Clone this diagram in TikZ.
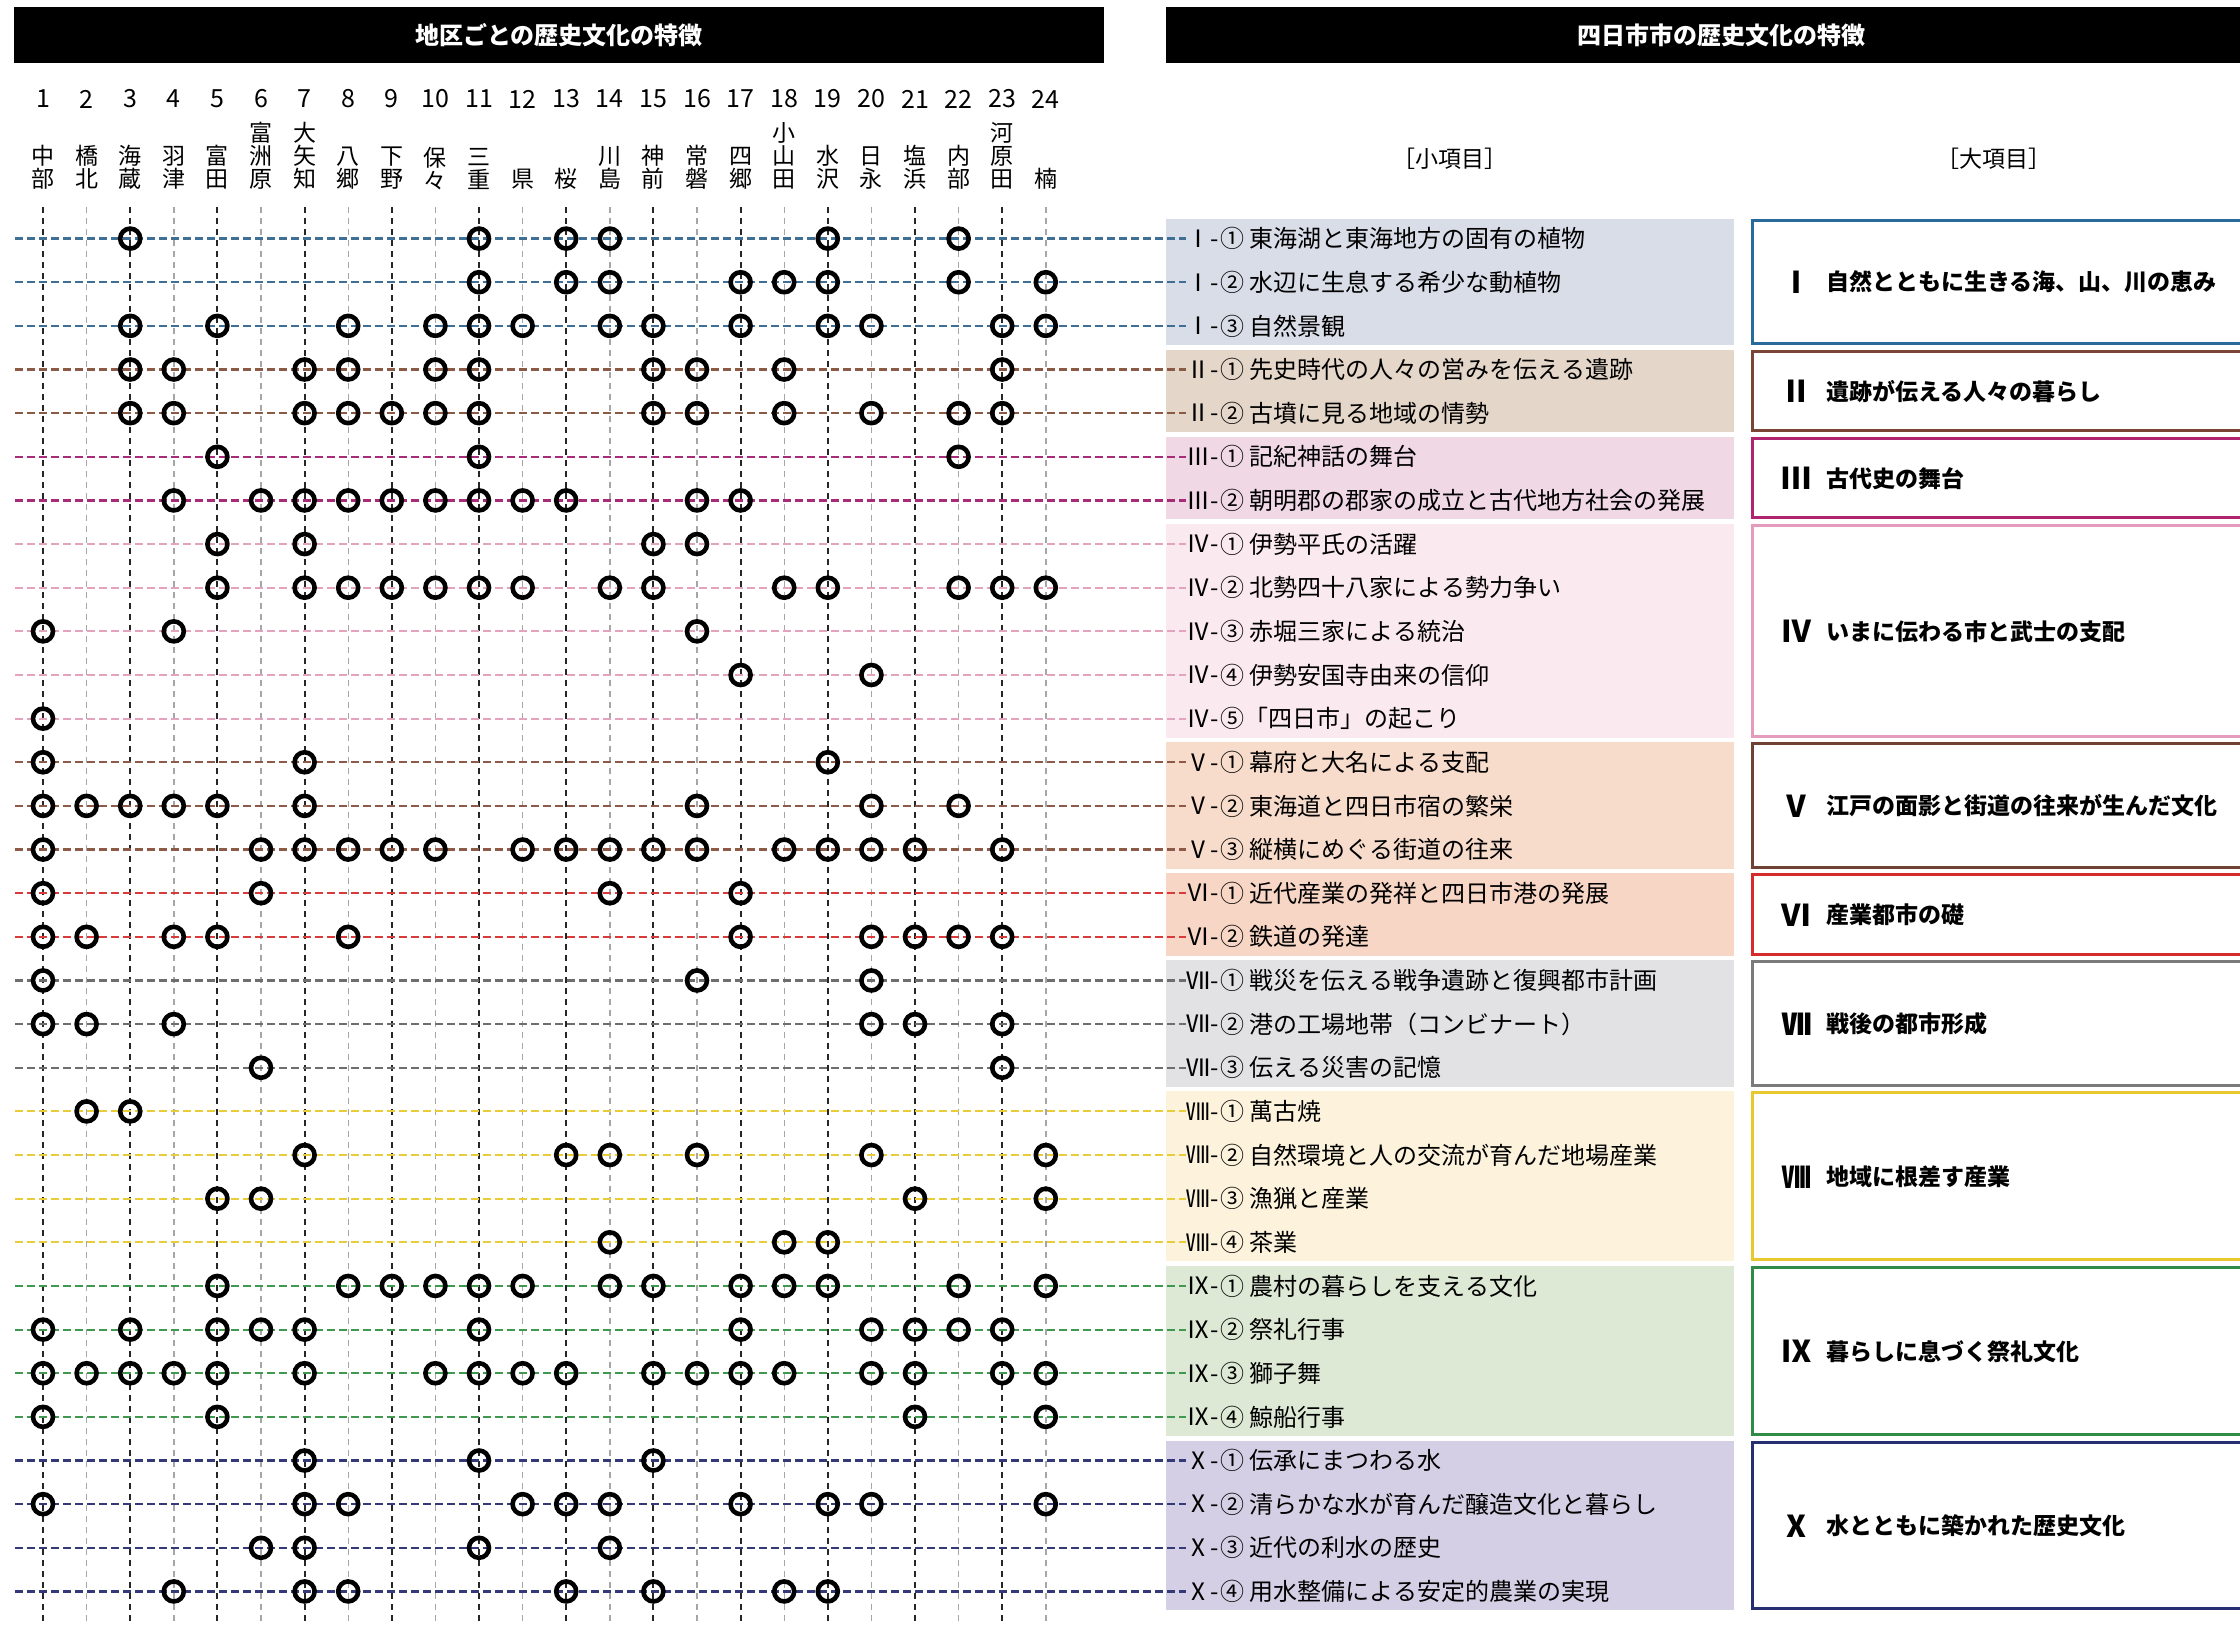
\documentclass[tikz,border=0pt]{standalone}
\usepackage{fontspec}
\setmainfont{Noto Sans CJK JP}
\usetikzlibrary{positioning}
\definecolor{line1}{HTML}{3F6F95}
\definecolor{line2}{HTML}{8A5A45}
\definecolor{line3}{HTML}{A62C78}
\definecolor{line4}{HTML}{E3A3BD}
\definecolor{line5}{HTML}{8C5A46}
\definecolor{line6}{HTML}{D93A3A}
\definecolor{line7}{HTML}{6E6E6E}
\definecolor{line8}{HTML}{E8CC3A}
\definecolor{line9}{HTML}{3F9A50}
\definecolor{line10}{HTML}{343A78}
\definecolor{fill1}{HTML}{D9DDE8}
\definecolor{fill2}{HTML}{E4D6C8}
\definecolor{fill3}{HTML}{F0D8E5}
\definecolor{fill4}{HTML}{FBE9F0}
\definecolor{fill5}{HTML}{F8DCCB}
\definecolor{fill6}{HTML}{F7D6C5}
\definecolor{fill7}{HTML}{E2E2E4}
\definecolor{fill8}{HTML}{FDF3DC}
\definecolor{fill9}{HTML}{DDE8D5}
\definecolor{fill10}{HTML}{D4CFE4}
\definecolor{box1}{HTML}{2A6A9A}
\definecolor{box2}{HTML}{7A4535}
\definecolor{box3}{HTML}{B0246F}
\definecolor{box4}{HTML}{E59BBB}
\definecolor{box5}{HTML}{6F4234}
\definecolor{box6}{HTML}{D62B2B}
\definecolor{box7}{HTML}{7B7B7B}
\definecolor{box8}{HTML}{E9C72E}
\definecolor{box9}{HTML}{2F8C48}
\definecolor{box10}{HTML}{263070}
\tikzset {
  ring/.style = {draw, circle, line width=2.3pt, minimum size=10pt, inner sep=0},
  vodd/.style = {dash pattern=on 3.2pt off 2.3pt, line width=1pt, color=black!85},
  veven/.style = {dash pattern=on 3.2pt off 2.3pt, line width=0.7pt, color=black!35},
  hline/.style = {dash pattern=on 4pt off 2pt, line width=1.1pt},
  titlebar/.style = {fill=black, text=white, font=\bfseries\fontsize{12}{14}\selectfont, inner sep=0},
  headtext/.style = {font=\fontsize{11.5}{11.5}\selectfont, inner sep=0},
  colnum/.style = {font=\fontsize{12.5}{12.5}\selectfont, inner sep=0},
  colname/.style = {font=\fontsize{11.5}{11.5}\selectfont, align=center, anchor=south, inner sep=0},
  numpre/.style = {anchor=east, inner sep=0, font=\fontsize{12}{12}\selectfont},
  itemtext/.style = {anchor=west, inner sep=0, font=\fontsize{12}{12}\selectfont},
  bignum/.style = {font=\bfseries\fontsize{15}{15}\selectfont, inner sep=0},
  bigtitle/.style = {anchor=west, font=\bfseries\fontsize{11.5}{12}\selectfont, inner sep=0}
}

\begin{document}
\begin{tikzpicture}[x=0.5pt, y=-0.5pt]
  \useasboundingbox (0,0) rectangle (2240,1625);

  % title bars
  \node[titlebar, minimum width=545pt, minimum height=28pt] (hleft) at (559,35) {地区ごとの歴史文化の特徴};
  \node[titlebar, minimum width=555pt, minimum height=28pt] (hright) at (1721,35) {四日市市の歴史文化の特徴};
  \node[headtext] (small) at (1450,159) {［小項目］};
  \node[headtext] (large) at (1994,159) {［大項目］};

  % groups: background of the items and frame of the main theme
  \foreach \g/\num/\a/\b/\ttl in {
      1/Ⅰ/1/3/{自然とともに生きる海、山、川の恵み},
      2/Ⅱ/4/5/{遺跡が伝える人々の暮らし},
      3/Ⅲ/6/7/{古代史の舞台},
      4/Ⅳ/8/12/{いまに伝わる市と武士の支配},
      5/Ⅴ/13/15/{江戸の面影と街道の往来が生んだ文化},
      6/Ⅵ/16/17/{産業都市の礎},
      7/Ⅶ/18/20/{戦後の都市形成},
      8/Ⅷ/21/24/{地域に根差す産業},
      9/Ⅸ/25/28/{暮らしに息づく祭礼文化},
      10/Ⅹ/29/32/{水とともに築かれた歴史文化}} {
    \fill[fill\g] (1166,{238.6+(\a-1)*43.64-20}) rectangle (1734,{238.6+(\b-1)*43.64+19});
    \draw[box\g, line width=1.5pt] (1752,{238.6+(\a-1)*43.64-18.5}) rectangle (2280,{238.6+(\b-1)*43.64+17.5});
    \node[bignum] (num\g) at (1796,{238.6+((\a+\b)/2-1)*43.64}) {\num};
    \node[bigtitle] (ttl\g) at (1826,{238.6+((\a+\b)/2-1)*43.64}) {\ttl};
  }

  % districts
  \foreach \c/\name in {1/{中\\部}, 2/{橋\\北}, 3/{海\\蔵}, 4/{羽\\津}, 5/{富\\田}, 6/{富\\洲\\原},
      7/{大\\矢\\知}, 8/{八\\郷}, 9/{下\\野}, 10/{保\\々}, 11/{三\\重}, 12/{県}, 13/{桜},
      14/{川\\島}, 15/{神\\前}, 16/{常\\磐}, 17/{四\\郷}, 18/{小\\山\\田}, 19/{水\\沢},
      20/{日\\永}, 21/{塩\\浜}, 22/{内\\部}, 23/{河\\原\\田}, 24/{楠}} {
    \node[colnum] (k\c) at ({43+(\c-1)*43.6},99) {\c};
    \node[colname] (m\c) at ({43+(\c-1)*43.6},190) {\name};
    \coordinate (top\c) at ({43+(\c-1)*43.6},207);
    \coordinate (bot\c) at ({43+(\c-1)*43.6},1625);
  }
  \foreach \c in {1,3,...,23}
    \draw[vodd] (top\c) -- (bot\c);
  \foreach \c in {2,4,...,24}
    \draw[veven] (top\c) -- (bot\c);

  % items
  \foreach \r/\g/\pre/\txt in {
      1/1/Ⅰ-/{① 東海湖と東海地方の固有の植物},
      2/1/Ⅰ-/{② 水辺に生息する希少な動植物},
      3/1/Ⅰ-/{③ 自然景観},
      4/2/Ⅱ-/{① 先史時代の人々の営みを伝える遺跡},
      5/2/Ⅱ-/{② 古墳に見る地域の情勢},
      6/3/Ⅲ-/{① 記紀神話の舞台},
      7/3/Ⅲ-/{② 朝明郡の郡家の成立と古代地方社会の発展},
      8/4/Ⅳ-/{① 伊勢平氏の活躍},
      9/4/Ⅳ-/{② 北勢四十八家による勢力争い},
      10/4/Ⅳ-/{③ 赤堀三家による統治},
      11/4/Ⅳ-/{④ 伊勢安国寺由来の信仰},
      12/4/Ⅳ-/{⑤「四日市」の起こり},
      13/5/Ⅴ-/{① 幕府と大名による支配},
      14/5/Ⅴ-/{② 東海道と四日市宿の繁栄},
      15/5/Ⅴ-/{③ 縦横にめぐる街道の往来},
      16/6/Ⅵ-/{① 近代産業の発祥と四日市港の発展},
      17/6/Ⅵ-/{② 鉄道の発達},
      18/7/Ⅶ-/{① 戦災を伝える戦争遺跡と復興都市計画},
      19/7/Ⅶ-/{② 港の工場地帯（コンビナート）},
      20/7/Ⅶ-/{③ 伝える災害の記憶},
      21/8/Ⅷ-/{① 萬古焼},
      22/8/Ⅷ-/{② 自然環境と人の交流が育んだ地場産業},
      23/8/Ⅷ-/{③ 漁猟と産業},
      24/8/Ⅷ-/{④ 茶業},
      25/9/Ⅸ-/{① 農村の暮らしを支える文化},
      26/9/Ⅸ-/{② 祭礼行事},
      27/9/Ⅸ-/{③ 獅子舞},
      28/9/Ⅸ-/{④ 鯨船行事},
      29/10/Ⅹ-/{① 伝承にまつわる水},
      30/10/Ⅹ-/{② 清らかな水が育んだ醸造文化と暮らし},
      31/10/Ⅹ-/{③ 近代の利水の歴史},
      32/10/Ⅹ-/{④ 用水整備による安定的農業の実現}} {
    \node[numpre] (p\r) at (1219,{238.6+(\r-1)*43.64}) {\pre};
    \node[itemtext] (s\r) at (1220,{238.6+(\r-1)*43.64}) {\txt};
    \coordinate (l\r) at (15,{238.6+(\r-1)*43.64});
    \draw[hline, line\g] (l\r) -- (p\r.west);
  }

  % marks
  \foreach \r/\cols in {
      1/{3,11,13,14,19,22},
      2/{11,13,14,17,18,19,22,24},
      3/{3,5,8,10,11,12,14,15,17,19,20,23,24},
      4/{3,4,7,8,10,11,15,16,18,23},
      5/{3,4,7,8,9,10,11,15,16,18,20,22,23},
      6/{5,11,22},
      7/{4,6,7,8,9,10,11,12,13,16,17},
      8/{5,7,15,16},
      9/{5,7,8,9,10,11,12,14,15,18,19,22,23,24},
      10/{1,4,16},
      11/{17,20},
      12/{1},
      13/{1,7,19},
      14/{1,2,3,4,5,7,16,20,22},
      15/{1,6,7,8,9,10,12,13,14,15,16,18,19,20,21,23},
      16/{1,6,14,17},
      17/{1,2,4,5,8,17,20,21,22,23},
      18/{1,16,20},
      19/{1,2,4,20,21,23},
      20/{6,23},
      21/{2,3},
      22/{7,13,14,16,20,24},
      23/{5,6,21,24},
      24/{14,18,19},
      25/{5,8,9,10,11,12,14,15,17,18,19,22,24},
      26/{1,3,5,6,7,11,17,20,21,22,23},
      27/{1,2,3,4,5,7,10,11,12,13,15,16,17,18,20,21,23,24},
      28/{1,5,21,24},
      29/{7,11,15},
      30/{1,7,8,12,13,14,17,19,20,24},
      31/{6,7,11,14},
      32/{4,7,8,13,15,18,19}}
    \foreach \c in \cols
      \node[ring] (d\r-\c) at ({43+(\c-1)*43.6},{238.6+(\r-1)*43.64}) {};

\end{tikzpicture}
\end{document}
